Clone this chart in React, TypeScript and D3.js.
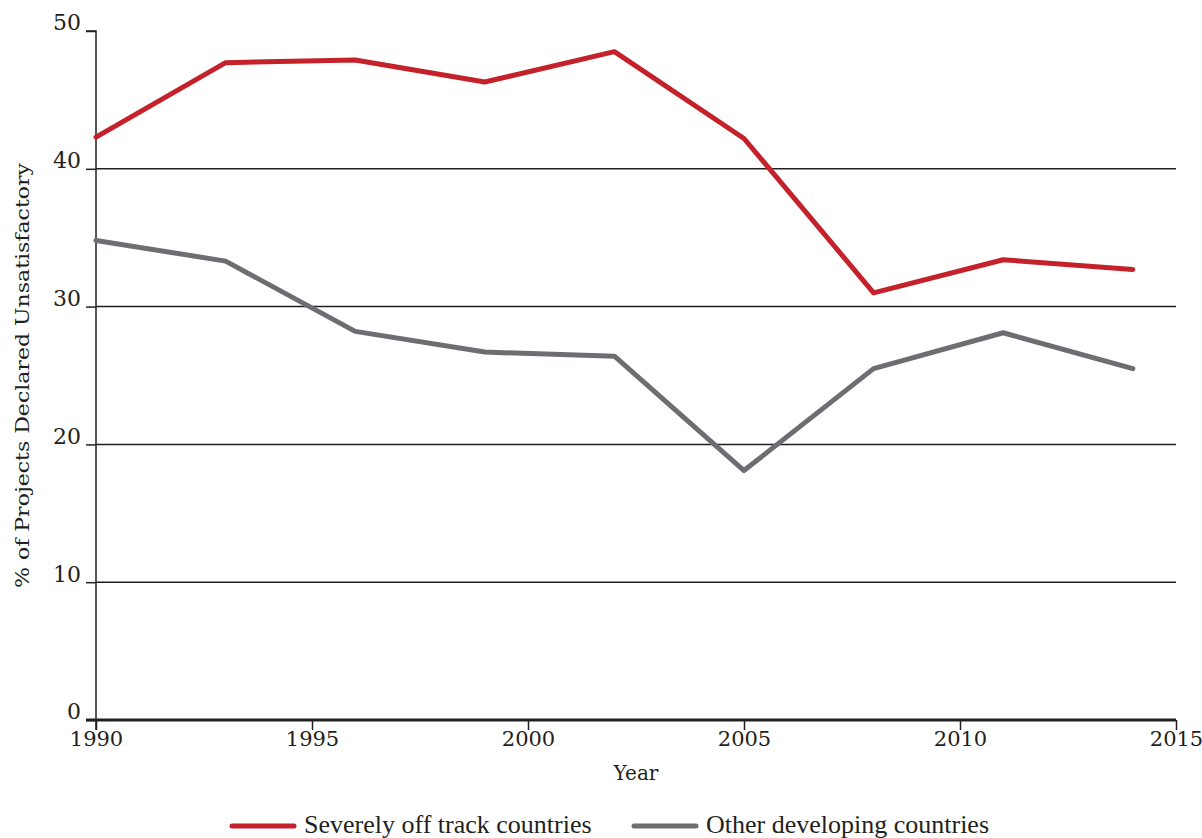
import { useEffect, useRef } from "react";
import * as d3 from "d3";

// Data
const years = [1990, 1993, 1996, 1999, 2002, 2005, 2008, 2011, 2014];
const severelyOffTrack = [42.3, 47.7, 47.9, 46.3, 48.5, 42.2, 31.0, 33.4, 32.7];
const otherDeveloping = [34.8, 33.3, 28.2, 26.7, 26.4, 18.1, 25.5, 28.1, 25.5];
const yTicks = [0, 10, 20, 30, 40, 50];
const xTicks = [1990, 1995, 2000, 2005, 2010, 2015];

const seriesList = [
  { name: "Severely off track countries", values: severelyOffTrack, color: "#C4212B" },
  { name: "Other developing countries", values: otherDeveloping, color: "#6D6E71" },
];

const W = 1202;
const H = 838;
const FONT = "'DejaVu Serif', 'Liberation Serif', serif";
const LEGEND_FONT = "'Liberation Serif', serif";

export default function App() {
  const svgRef = useRef<SVGSVGElement | null>(null);

  useEffect(() => {
    const svg = d3.select(svgRef.current);
    svg.selectAll("*").remove();

    const margin = { top: 31, right: 26, bottom: 118, left: 96 };

    const x = d3
      .scaleLinear()
      .domain([1990, 2015])
      .range([margin.left, W - margin.right]);
    const y = d3
      .scaleLinear()
      .domain([0, 50])
      .range([H - margin.bottom, margin.top]);

    const g = svg.append("g");

    // horizontal gridlines (10..40)
    g.append("g")
      .selectAll("line")
      .data(yTicks.filter((t) => t > 0 && t < 50))
      .join("line")
      .attr("x1", x(1990))
      .attr("x2", x(2015))
      .attr("y1", (d) => y(d))
      .attr("y2", (d) => y(d))
      .attr("stroke", "#231F20")
      .attr("stroke-width", 1.5);

    // y axis
    const yAxis = g
      .append("g")
      .attr("transform", `translate(${margin.left},0)`)
      .call(d3.axisLeft(y).tickValues(yTicks).tickSize(10).tickPadding(5));
    yAxis.select(".domain").attr("stroke", "#231F20").attr("stroke-width", 1.5)
      .attr("d", `M-10,${y(50)}H0V${y(0) + 10}`);
    yAxis.selectAll(".tick line").attr("stroke", "#231F20").attr("stroke-width", 1.5);
    yAxis
      .selectAll(".tick text")
      .attr("font-family", FONT)
      .attr("font-size", 22)
      .attr("fill", "#231F20")
      .attr("dy", "-0.05em");

    // x axis
    const xAxis = g
      .append("g")
      .attr("transform", `translate(0,${y(0)})`)
      .call(
        d3
          .axisBottom(x)
          .tickValues(xTicks)
          .tickFormat(d3.format("d"))
          .tickSize(10)
          .tickPadding(1)
      );
    xAxis.select(".domain").attr("stroke", "#231F20").attr("stroke-width", 3)
      .attr("d", `M${x(1990) - 10},0H${x(2015)}`);
    xAxis.selectAll(".tick line").attr("stroke", "#231F20").attr("stroke-width", 1.5);
    xAxis
      .selectAll(".tick text")
      .attr("font-family", FONT)
      .attr("font-size", 21)
      .attr("fill", "#231F20");

    // axis titles
    g.append("text")
      .attr("x", (x(1990) + x(2015)) / 2)
      .attr("y", 780)
      .attr("text-anchor", "middle")
      .attr("font-family", FONT)
      .attr("font-size", 20)
      .attr("fill", "#231F20")
      .text("Year");

    g.append("text")
      .attr("transform", `translate(29,${(y(0) + y(50)) / 2}) rotate(-90)`)
      .attr("text-anchor", "middle")
      .attr("font-family", FONT)
      .attr("font-size", 19)
      .attr("fill", "#231F20")
      .attr("textLength", 425)
      .attr("lengthAdjust", "spacingAndGlyphs")
      .text("% of Projects Declared Unsatisfactory");

    // lines
    const line = d3
      .line<number>()
      .x((_, i) => x(years[i]))
      .y((d) => y(d));

    seriesList.slice().reverse().forEach((s) => {
      g.append("path")
        .datum(s.values)
        .attr("fill", "none")
        .attr("stroke", s.color)
        .attr("stroke-width", 5)
        .attr("stroke-linejoin", "round")
        .attr("stroke-linecap", "round")
        .attr("d", line);
    });

    // legend
    const legendX = [232, 634];
    const legend = g.append("g");
    seriesList.forEach((s, i) => {
      const lg = legend.append("g").attr("transform", `translate(${legendX[i]},826)`);
      lg.append("line")
        .attr("x1", 0)
        .attr("x2", 62)
        .attr("stroke", s.color)
        .attr("stroke-width", 5)
        .attr("stroke-linecap", "round");
      lg.append("text")
        .attr("x", 72)
        .attr("y", 7)
        .attr("font-family", LEGEND_FONT)
        .attr("font-size", 26)
        .attr("fill", "#231F20")
        .text(s.name);
    });
  }, []);

  return (
    <svg
      ref={svgRef}
      width={W}
      height={H}
      style={{ position: "absolute", left: 0, top: 0, background: "#fff" }}
    />
  );
}
